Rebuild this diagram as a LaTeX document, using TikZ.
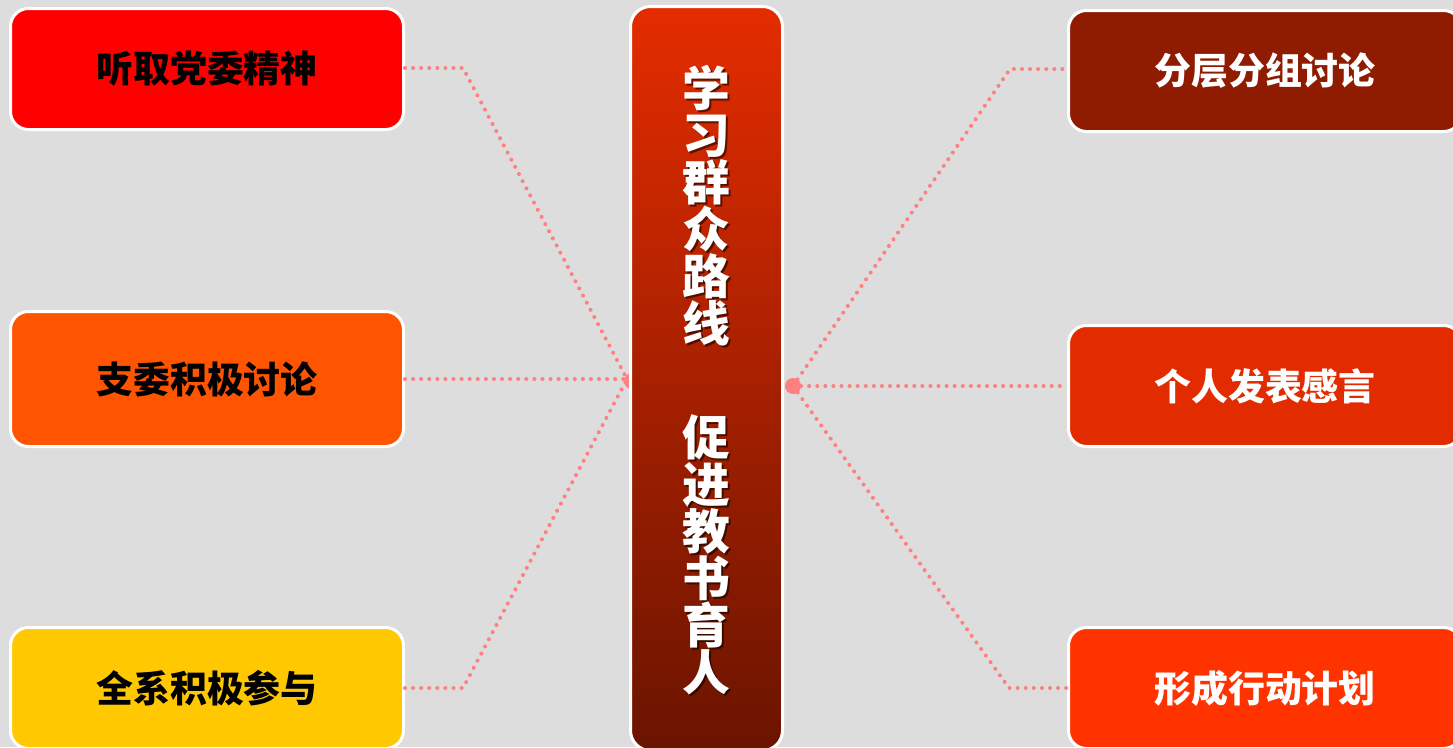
\documentclass[tikz,border=0pt]{standalone}
\usepackage{fontspec}
\setmainfont{Noto Sans CJK SC}
\definecolor{bggrey}{HTML}{DDDDDD}
\definecolor{linkpink}{HTML}{FF8080}
\definecolor{boxred}{HTML}{FF0000}
\definecolor{boxorange}{HTML}{FF5500}
\definecolor{boxyellow}{HTML}{FFC800}
\definecolor{boxmaroon}{HTML}{8F1B00}
\definecolor{boxbrick}{HTML}{E22C00}
\definecolor{boxflame}{HTML}{FF3300}
\definecolor{titletop}{HTML}{E42C00}
\definecolor{titlebot}{HTML}{6A1400}
\newcommand\itemfont{\fontsize{10.5}{12}\selectfont\bfseries}
\newcommand\titlefont{\fontsize{13.6}{13.4}\selectfont\bfseries}

\begin{document}
\begin{tikzpicture}
    [item/.style={rectangle, rounded corners=0.18cm, draw=white, line width=0.03cm,
       minimum width=3.93cm, minimum height=1.21cm, font=\itemfont},
     link/.style={linkpink, line width=1.15pt, line cap=round, dash pattern=on 0pt off 2.3pt}]
  \clip (0,0) rectangle (14.53,-7.47);
  \fill[bggrey] (0,0) rectangle (14.53,-7.47);

  \node (l1) [item, fill=boxred] at (2.07,-0.69) {听取党委精神};
  \node (l2) [item, fill=boxorange, minimum height=1.35cm] at (2.07,-3.79) {支委积极讨论};
  \node (l3) [item, fill=boxyellow] at (2.07,-6.88) {全系积极参与};

  \node (r1) [item, fill=boxmaroon, text=white] at (12.65,-0.71) {分层分组讨论};
  \node (r2) [item, fill=boxbrick, text=white] at (12.65,-3.86) {个人发表感言};
  \node (r3) [item, fill=boxflame, text=white] at (12.65,-6.88) {形成行动计划};

  \coordinate (hubL) at (6.27,-3.79);
  \coordinate (hubR) at (7.93,-3.86);
  \coordinate (bendL1) at (4.63,-0.68);
  \coordinate (bendL3) at (4.63,-6.88);
  \coordinate (bendR1) at (10.10,-0.69);
  \coordinate (bendR3) at (10.09,-6.88);

  \draw[link] (l1.east |- bendL1) -- (bendL1) -- (hubL);
  \draw[link] (l2.east) -- (hubL);
  \draw[link] (l3.east |- bendL3) -- (bendL3) -- (hubL);
  \draw[link] (hubR) -- (bendR1) -- (r1.west |- bendR1);
  \draw[link] (hubR) -- (r2.west);
  \draw[link] (hubR) -- (bendR3) -- (r3.west |- bendR3);
  \fill[linkpink] ([xshift=0.05cm,yshift=-0.02cm]hubL) circle (0.08);
  \fill[linkpink] (hubR) circle (0.08);

  \node (centre) [rectangle, rounded corners=0.2cm, draw=white, line width=0.03cm,
    top color=titletop, bottom color=titlebot, minimum width=1.52cm, minimum height=7.44cm]
    at (7.065,-3.785) {};
  \node (shade) [align=center, font=\titlefont, text=black, opacity=0.55] at (7.085,-3.82)
    {学\\习\\群\\众\\路\\线\\[19pt]促\\进\\教\\书\\育\\人};
  \node (title) [align=center, font=\titlefont, text=white] at (7.065,-3.80)
    {学\\习\\群\\众\\路\\线\\[19pt]促\\进\\教\\书\\育\\人};
\end{tikzpicture}
\end{document}
